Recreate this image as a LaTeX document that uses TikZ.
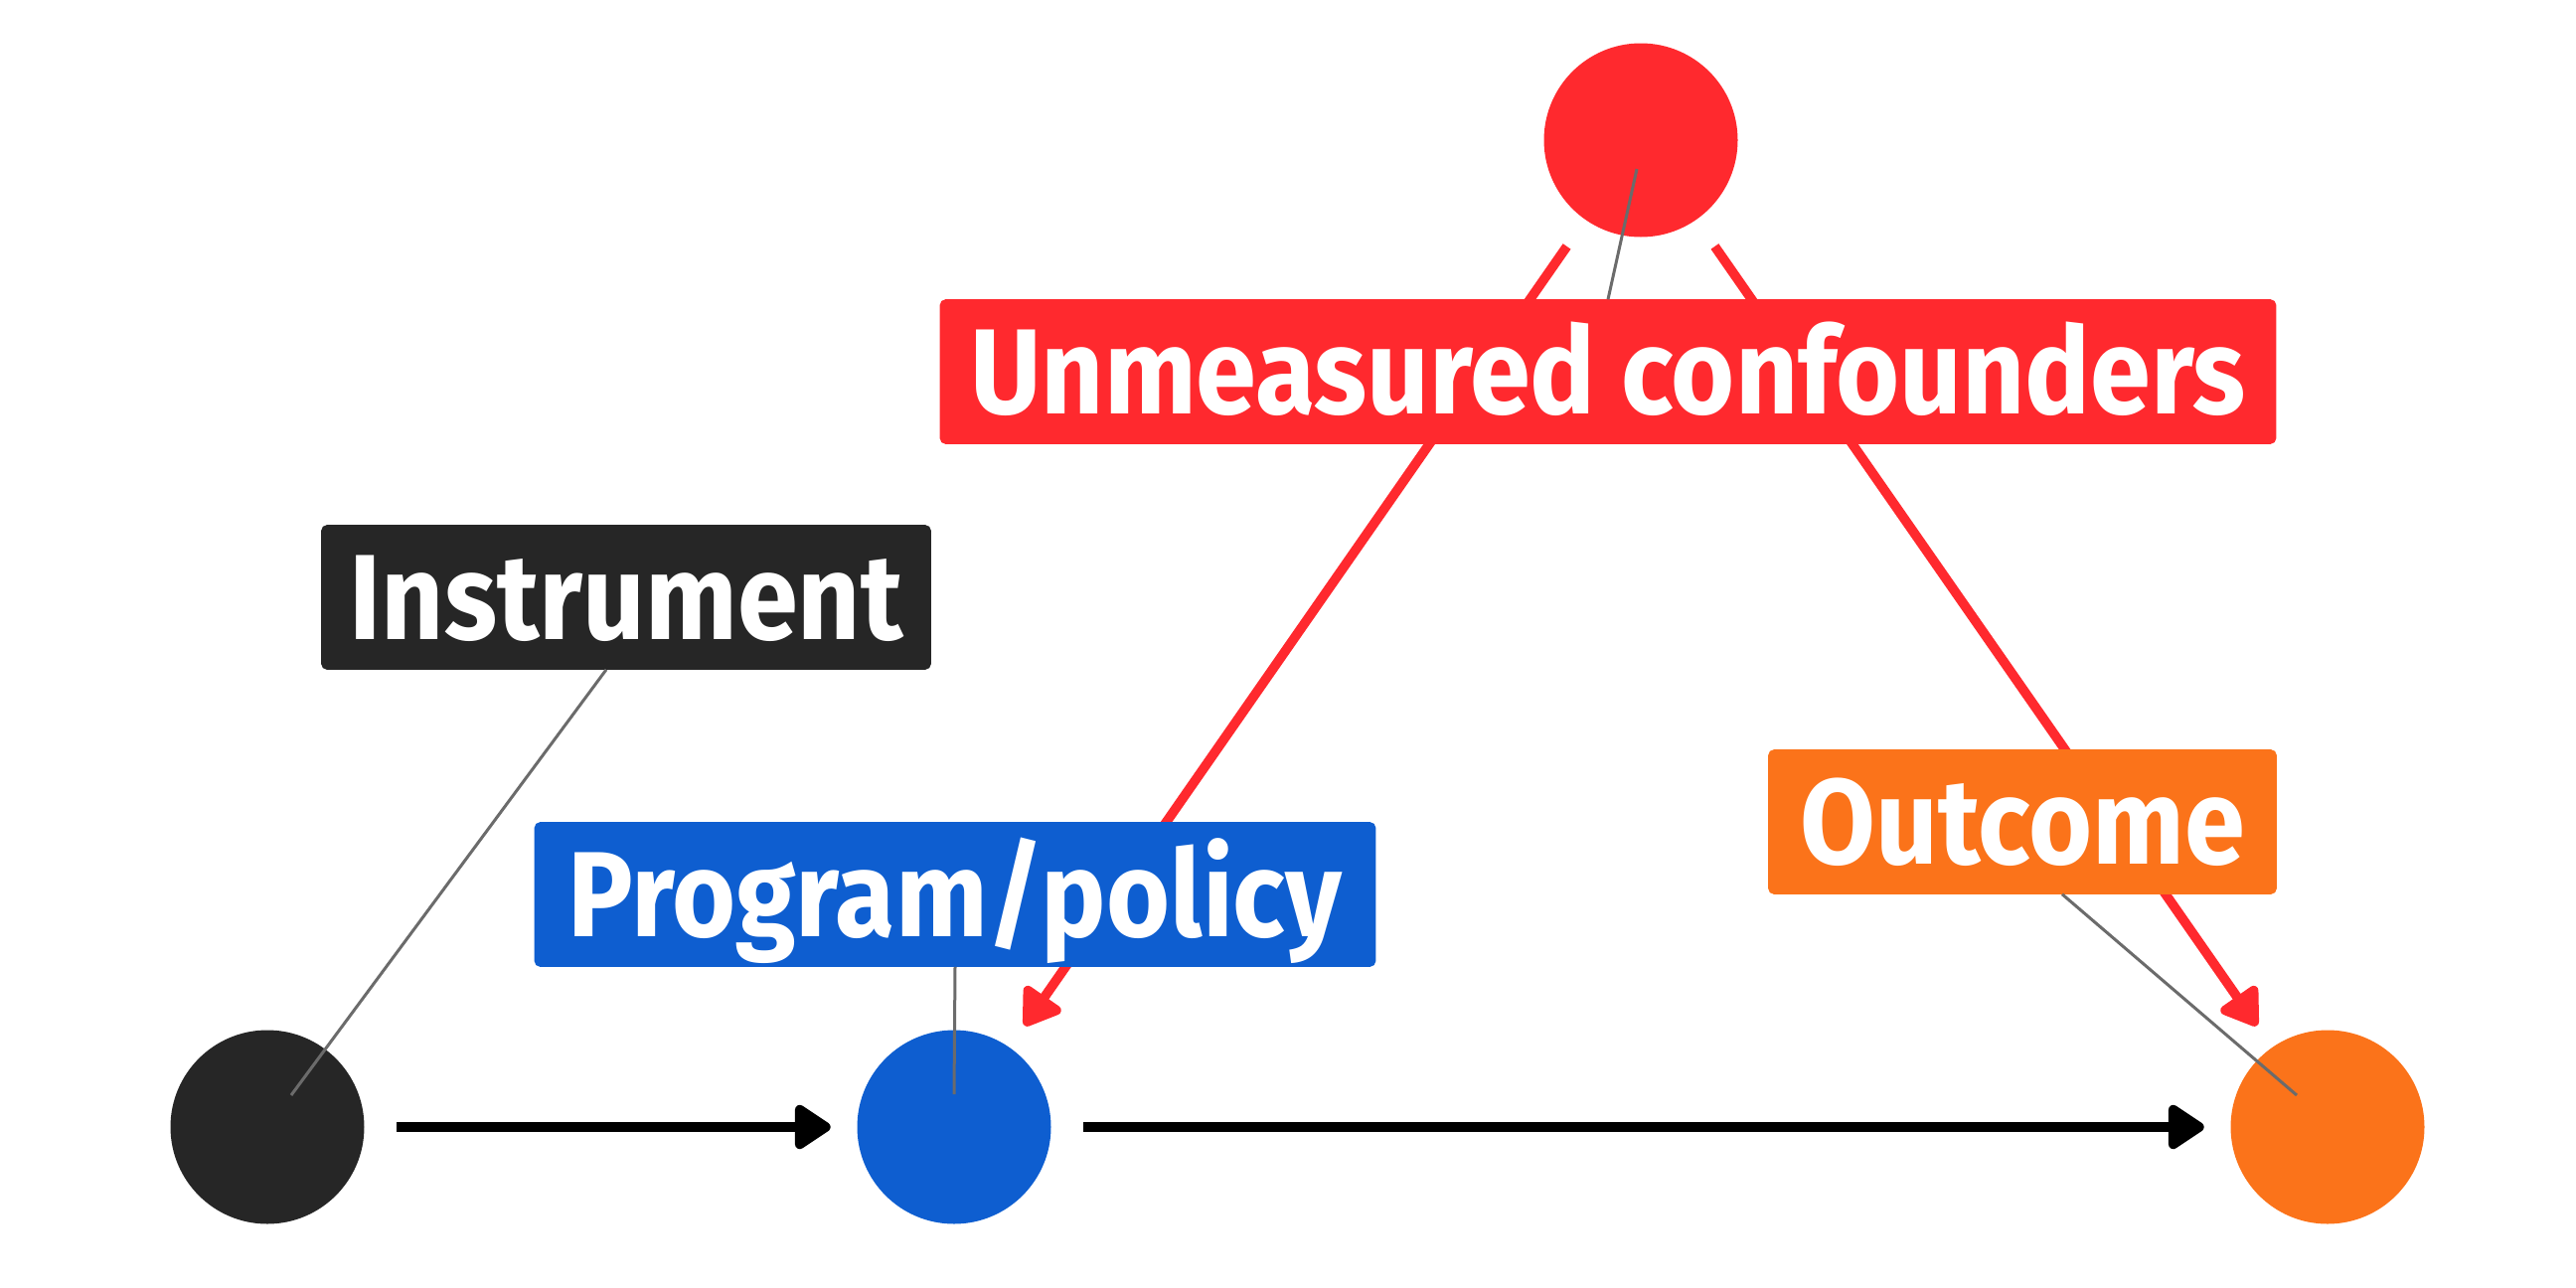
\documentclass[tikz,border=0pt]{standalone}
\usepackage{fontspec}
\setmainfont{Fira Sans}[FakeStretch=0.9]
\usetikzlibrary{arrows.meta}
\definecolor{cred}{RGB}{255,41,46}
\definecolor{cdark}{RGB}{38,38,38}
\definecolor{cblue}{RGB}{14,94,208}
\definecolor{corange}{RGB}{251,115,26}
\definecolor{cseg}{RGB}{107,107,107}
\begin{document}
\begin{tikzpicture}[x=0.25pt,y=-0.25pt,
  dot/.style={circle, fill=#1, minimum size=48.75pt, inner sep=0pt},
  lab/.style={fill=#1, draw=#1, rounded corners=1.25pt, text=white,
    font=\bfseries\fontsize{30.5}{36}\selectfont, minimum height=36pt,
    inner sep=0pt, text height=21pt, text depth=0pt},
  edge/.style={draw=#1, line width=2.4pt,
    -{Triangle[length=10pt,width=12.5pt,round]},
    shorten <=8pt, shorten >=6.5pt},
  seg/.style={draw=cseg, line width=0.75pt}]
\useasboundingbox (0,0) rectangle (2592,1296);
% nodes (points)
\node[dot=cred]    (U) at (1651,141) {};
\node[dot=cdark]   (Z) at (269,1134) {};
\node[dot=cblue]   (X) at (960,1134) {};
\node[dot=corange] (Y) at (2342,1134) {};
% edges
\draw[edge=black] (Z) -- (X);
\draw[edge=black] (X) -- (Y);
\draw[edge=cred] (U) -- (X);
\draw[edge=cred] (U) -- (Y);
% labels
\node[lab=cred, minimum width=335.75pt]   (Ul) at (1618,374) {Unmeasured confounders};
\node[lab=cdark, minimum width=153pt]     (Zl) at (630,601) {Instrument};
\node[lab=cblue, minimum width=211.25pt]  (Xl) at (961,900) {Program/policy};
\node[lab=corange, minimum width=127.5pt] (Yl) at (2035,827) {Outcome};
% leader segments
\coordinate (Ue) at (1647,170);
\coordinate (Ze) at (293,1102);
\coordinate (Xe) at (960,1101);
\coordinate (Ye) at (2311,1102);
\draw[seg] (Ul.north) -- (Ue);
\draw[seg] ([xshift=-5pt]Zl.south) -- (Ze);
\draw[seg] (Xl.south) -- (Xe);
\draw[seg] ([xshift=10pt]Yl.south) -- (Ye);
\end{tikzpicture}
\end{document}
